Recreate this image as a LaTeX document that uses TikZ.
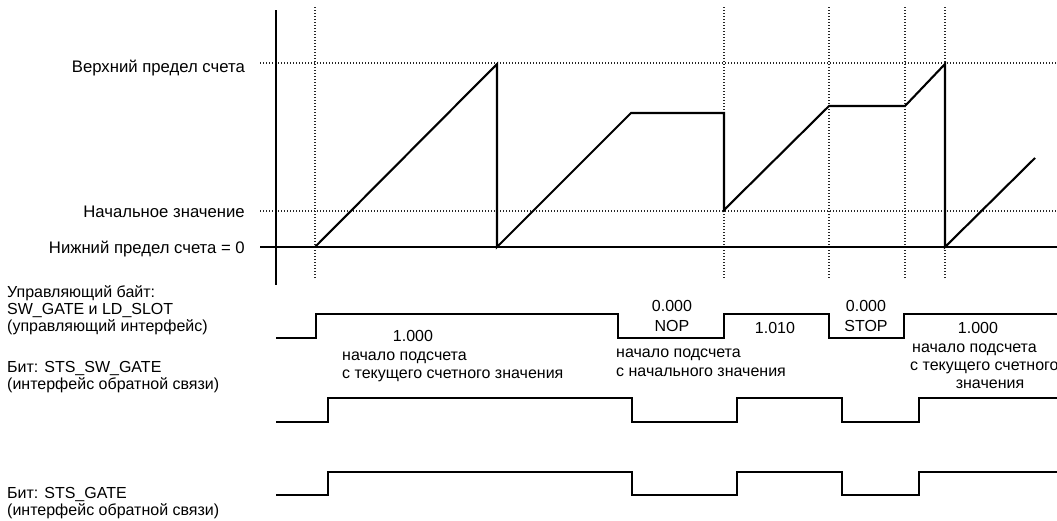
\documentclass[tikz,border=0pt]{standalone}
\usepackage{fontspec}
\setmainfont{Liberation Sans}
\begin{document}
\begin{tikzpicture}[x=1pt,y=-1pt,
  thick line/.style={line width=2.1pt, line join=miter, line cap=butt},
  gridline/.style={line width=1.2pt, dash pattern=on 1.2pt off 1.8pt, black!85},
  lbl/.style={inner sep=0pt, font=\fontsize{16}{18}\selectfont},
  biglbl/.style={inner sep=0pt, font=\fontsize{16.7}{19}\selectfont}]
\useasboundingbox (0,0) rectangle (1057,520);
\fill[white] (0,0) rectangle (1057,520);
% grid lines
\draw[gridline] (260,63) -- (1057,63);
\draw[gridline] (260,211) -- (1057,211);
\foreach \gx in {315,724,829,905,945}
  \draw[gridline] (\gx,7) -- (\gx,279);
% axes
\draw[thick line] (276,10) -- (276,285);
\draw[thick line] (260,247) -- (1057,247);
% counter curve
\draw[thick line] (315,247) -- (497,64) -- (497,247) -- (631,113) -- (724,113)
  -- (724,210) -- (829,106) -- (905,106) -- (945,64) -- (945,247) -- (1035,158);
% axis labels
\node[biglbl, anchor=base east] (upper) at (245,72) {Верхний предел счета};
\node[biglbl, anchor=base east] (start) at (245,217) {Начальное значение};
\node[biglbl, anchor=base east] (lower) at (245,253) {Нижний предел счета = 0};
% waveforms
\draw[thick line] (276,338) -- (316,338) -- (316,314) -- (618,314) -- (618,338)
  -- (724,338) -- (724,314) -- (829,314) -- (829,338) -- (904,338) -- (904,314) -- (1057,314);
\draw[thick line] (276,422) -- (328,422) -- (328,398) -- (632,398) -- (632,422)
  -- (737,422) -- (737,398) -- (842,398) -- (842,422) -- (919,422) -- (919,398) -- (1057,398);
\draw[thick line] (276,495) -- (328,495) -- (328,472) -- (632,472) -- (632,495)
  -- (737,495) -- (737,472) -- (842,472) -- (842,495) -- (919,495) -- (919,472) -- (1057,472);
% left labels
\node[lbl, anchor=base west] (cb1) at (7,297) {Управляющий байт:};
\node[lbl, anchor=base west] (cb2) at (7,314) {SW\_GATE и LD\_SLOT};
\node[lbl, anchor=base west] (cb3) at (7,331) {(управляющий интерфейс)};
\node[lbl, anchor=base west] (sw1) at (7,372) {Бит: STS\_SW\_GATE};
\node[lbl, anchor=base west] (sw2) at (7,389) {(интерфейс обратной связи)};
\node[lbl, anchor=base west] (sg1) at (7,498) {Бит: STS\_GATE};
\node[lbl, anchor=base west] (sg2) at (7,515) {(интерфейс обратной связи)};
% waveform annotations
\node[lbl, anchor=base] (v1) at (413,341) {1.000};
\node[lbl, anchor=base west] (a1) at (342,360) {начало подсчета};
\node[lbl, anchor=base west] (a2) at (342,378) {с текущего счетного значения};
\node[lbl, anchor=base] (v2) at (672,311) {0.000};
\node[lbl, anchor=base] (v2b) at (672,331) {NOP};
\node[lbl, anchor=base west] (b1) at (616,357) {начало подсчета};
\node[lbl, anchor=base west] (b2) at (616,376) {с начального значения};
\node[lbl, anchor=base] (v3) at (775,333) {1.010};
\node[lbl, anchor=base] (v4) at (866,311) {0.000};
\node[lbl, anchor=base] (v4b) at (866,331) {STOP};
\node[lbl, anchor=base] (v5) at (978,333) {1.000};
\node[lbl, anchor=base west] (c1) at (912,352) {начало подсчета};
\node[lbl, anchor=base west] (c2) at (910,370) {с текущего счетного};
\node[lbl, anchor=base] (c3) at (990,388) {значения};
\end{tikzpicture}
\end{document}
